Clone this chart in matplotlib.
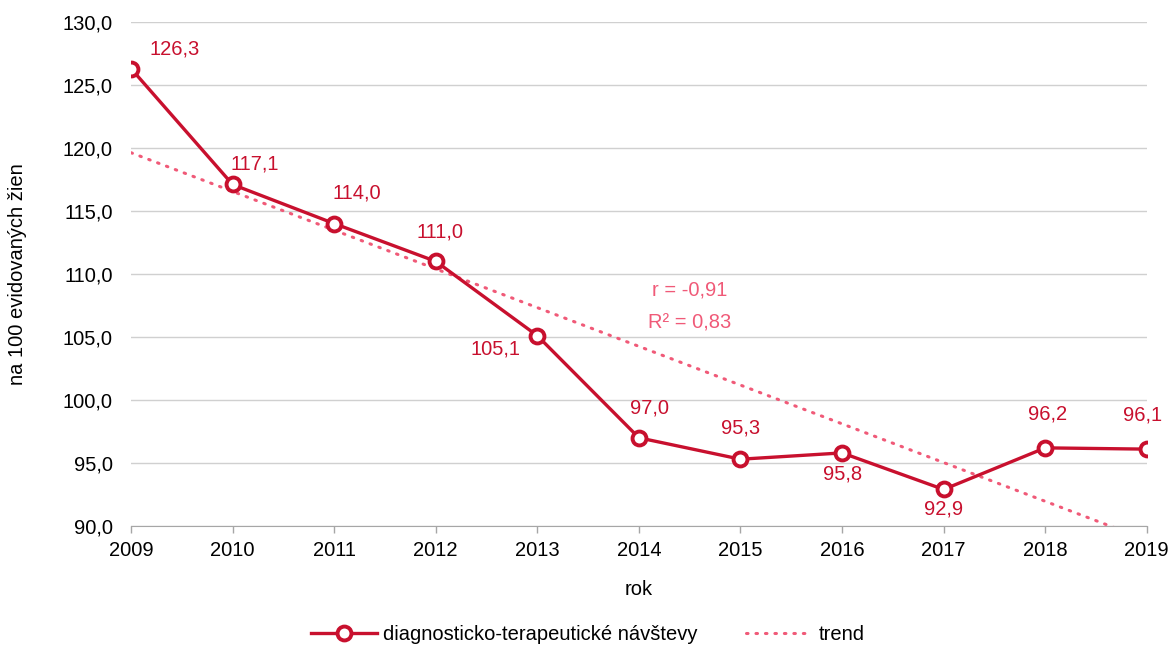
import numpy as np
import matplotlib
matplotlib.use("Agg")
import matplotlib.pyplot as plt

plt.rcParams["font.family"] = ["Liberation Sans", "DejaVu Sans"]

years = [2009, 2010, 2011, 2012, 2013, 2014, 2015, 2016, 2017, 2018, 2019]
visits = [126.3, 117.1, 114.0, 111.0, 105.1, 97.0, 95.3, 95.8, 92.9, 96.2, 96.1]
stats_text = ["r = -0,91", "R² = 0,83"]

# label offsets from the point, in pixels (dx, dy up)
label_off = [(44, 20), (22, 20), (23, 31), (4, 29), (-42, -13), (11, 30),
             (0, 31), (0, -21), (0, -20), (2, 34), (-4, 34)]

RED = "#C8102E"
PINK = "#F05A78"
FS = 14.5

fig = plt.figure(figsize=(11.75, 6.45), dpi=100)
ax = fig.add_axes([0.1115, 0.1845, 0.8645, 0.7815])

x = np.array(years, dtype=float)
y = np.array(visits)
slope, icpt = np.polyfit(x, y, 1)
ax.plot(x, slope * x + icpt, color=PINK, ls=(0, (0.5, 2.6)), lw=2.2,
        dash_capstyle="round", zorder=2, label="trend")
ax.plot(x, y, color=RED, lw=2.4, marker="o", ms=10, mfc="white", mec=RED,
        mew=2.8, zorder=3, label="diagnosticko-terapeutické návštevy")

for xi, yi, (dx, dy) in zip(years, visits, label_off):
    ax.annotate(f"{yi:.1f}".replace(".", ","), (xi, yi),
                xytext=(dx * 0.72, dy * 0.72), textcoords="offset points",
                ha="center", va="center", color=RED, fontsize=FS)

ax.text(2014.5, 108.7, stats_text[0], color=PINK, fontsize=FS, ha="center", va="center")
ax.text(2014.5, 106.1, stats_text[1], color=PINK, fontsize=FS, ha="center", va="center")

ax.set_xlim(2009, 2019)
ax.set_ylim(90, 130)
ax.set_xticks(years)
ax.set_yticks(np.arange(90, 131, 5))
ax.set_yticklabels([f"{v:.1f}".replace(".", ",") for v in np.arange(90, 131, 5)])
ax.tick_params(axis="both", labelsize=FS, colors="black")
ax.tick_params(axis="y", length=0, pad=13)
ax.tick_params(axis="x", length=5, color="#A6A6A6", width=1, pad=6)
ax.grid(axis="y", color="#D0D0D0", lw=1)
ax.set_axisbelow(True)
for s in ["top", "right", "left"]:
    ax.spines[s].set_visible(False)
ax.spines["bottom"].set_color("#A6A6A6")
ax.set_xlabel("rok", fontsize=FS, labelpad=14)
ax.set_ylabel("na 100 evidovaných žien", fontsize=FS, labelpad=26)

h, l = ax.get_legend_handles_labels()
fig.legend(h[::-1], l[::-1], loc="lower center", bbox_to_anchor=(0.5, -0.026), ncol=2,
           frameon=False, fontsize=FS, handlelength=3.3, handletextpad=0.3,
           columnspacing=2.4)

fig.savefig("out.png", dpi=100)
